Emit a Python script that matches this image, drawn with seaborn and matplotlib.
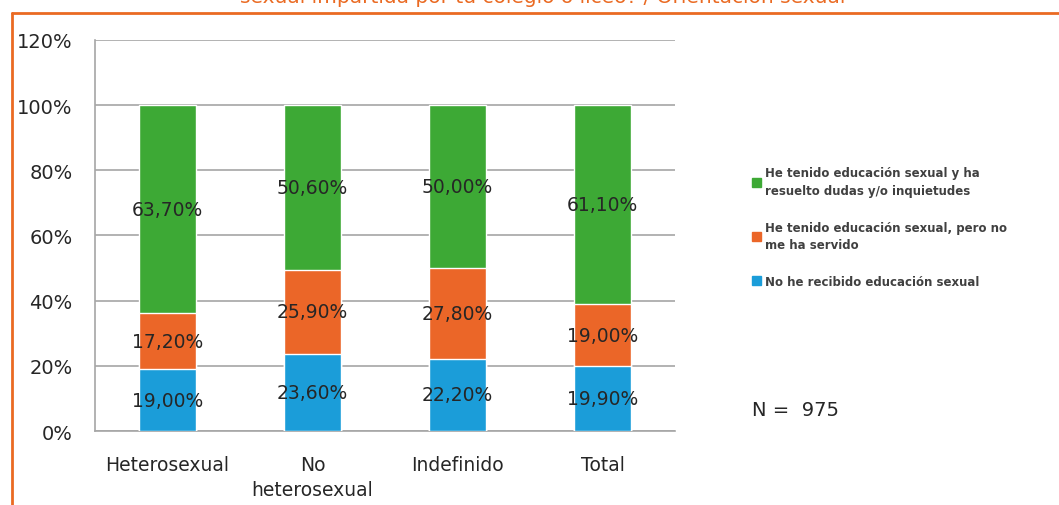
import numpy as np
import pandas as pd
import seaborn as sns
import matplotlib.pyplot as plt
from matplotlib.lines import Line2D
from matplotlib.patches import Patch

categories = ['Heterosexual', 'No\nheterosexual', 'Indefinido', 'Total']
no_recibido = [19.0, 23.6, 22.2, 19.9]
no_servido = [17.2, 25.9, 27.8, 19.0]
resuelto = [63.7, 50.6, 50.0, 61.1]
series_names = ['He tenido educación sexual y ha\nresuelto dudas y/o inquietudes',
                'He tenido educación sexual, pero no\nme ha servido',
                'No he recibido educación sexual']
y_ticks = [0, 20, 40, 60, 80, 100, 120]

green = '#3DA935'
orange = '#EB6628'
blue = '#1B9DD9'
frame_orange = '#EA6A22'
text_col = '#262626'

sns.set_style('white')
plt.rcParams['font.family'] = ['DejaVu Sans']

fig = plt.figure(figsize=(10.59, 5.06), dpi=100)
ax = fig.add_axes([0.0897, 0.1462, 0.5477, 0.7729])

dt = pd.DataFrame({'cat': categories,
                   'blue': no_recibido,
                   'orange': no_servido,
                   'green': resuelto})
dt['c1'] = dt['blue']
dt['c2'] = dt['blue'] + dt['orange']
dt['c3'] = dt['c2'] + dt['green']

for col, color in [('c3', green), ('c2', orange), ('c1', blue)]:
    sns.barplot(data=dt, x='cat', y=col, color=color, width=0.39,
                saturation=1, ax=ax, zorder=3)

# data labels centred in each segment
for i in range(len(categories)):
    bottoms = [0, dt['c1'][i], dt['c2'][i]]
    vals = [no_recibido[i], no_servido[i], resuelto[i]]
    for b, v in zip(bottoms, vals):
        ax.text(i, b + v / 2, f'{v:.2f}'.replace('.', ',') + '%',
                ha='center', va='center', fontsize=13.5, color=text_col, zorder=4)

ax.set_ylim(0, 120)
ax.set_xlim(-0.5, 3.5)
ax.set_yticks(y_ticks)
ax.set_yticklabels([f'{t}%' for t in y_ticks], fontsize=14, color=text_col)
ax.yaxis.grid(True, color='#A6A6A6', lw=1.2, zorder=0)
ax.set_axisbelow(True)

ax.set_xticks(np.arange(-0.5, 4, 1))
ax.set_xticklabels([])
ax.set_xticks(range(len(categories)), minor=True)
ax.set_xticklabels(categories, minor=True, fontsize=13.5, color=text_col, linespacing=1.45)
ax.tick_params(axis='x', which='major', direction='out', length=6, color='#A6A6A6', width=1.2)
ax.tick_params(axis='x', which='minor', length=0, pad=17)
ax.tick_params(axis='y', direction='out', length=6, color='#A6A6A6', width=1.2, pad=10)
ax.set_xlabel('')
ax.set_ylabel('')
for s in ['top', 'right']:
    ax.spines[s].set_visible(False)
for s in ['left', 'bottom']:
    ax.spines[s].set_color('#A6A6A6')
    ax.spines[s].set_linewidth(1.2)

handles = [Patch(color=green), Patch(color=orange), Patch(color=blue)]
leg = fig.legend(handles, series_names, loc='upper left', bbox_to_anchor=(0.700, 0.69),
                 frameon=False, prop={'weight': 'bold', 'size': 8.5},
                 handlelength=0.8, handleheight=0.8, handletextpad=0.3,
                 labelspacing=2.0)
for t in leg.get_texts():
    t.set_color('#404040')
    t.set_linespacing(1.45)

fig.text(0.710, 0.178, 'N =  975', fontsize=14, color=text_col)

# title, its lower part only is visible at the top of the image
fig.text(0.512, 1 - 3 / 506, 'sexual impartida por tu colegio o liceo? / Orientación sexual',
         ha='center', va='baseline', fontsize=14.5, color=frame_orange)

# orange frame
fig.add_artist(Line2D([12 / 1059, 1.0], [1 - 14 / 506, 1 - 14 / 506],
                      color=frame_orange, lw=2, transform=fig.transFigure))
fig.add_artist(Line2D([12 / 1059, 12 / 1059], [0, 1 - 14 / 506],
                      color=frame_orange, lw=2, transform=fig.transFigure))

fig.savefig('out.png', dpi=100)
